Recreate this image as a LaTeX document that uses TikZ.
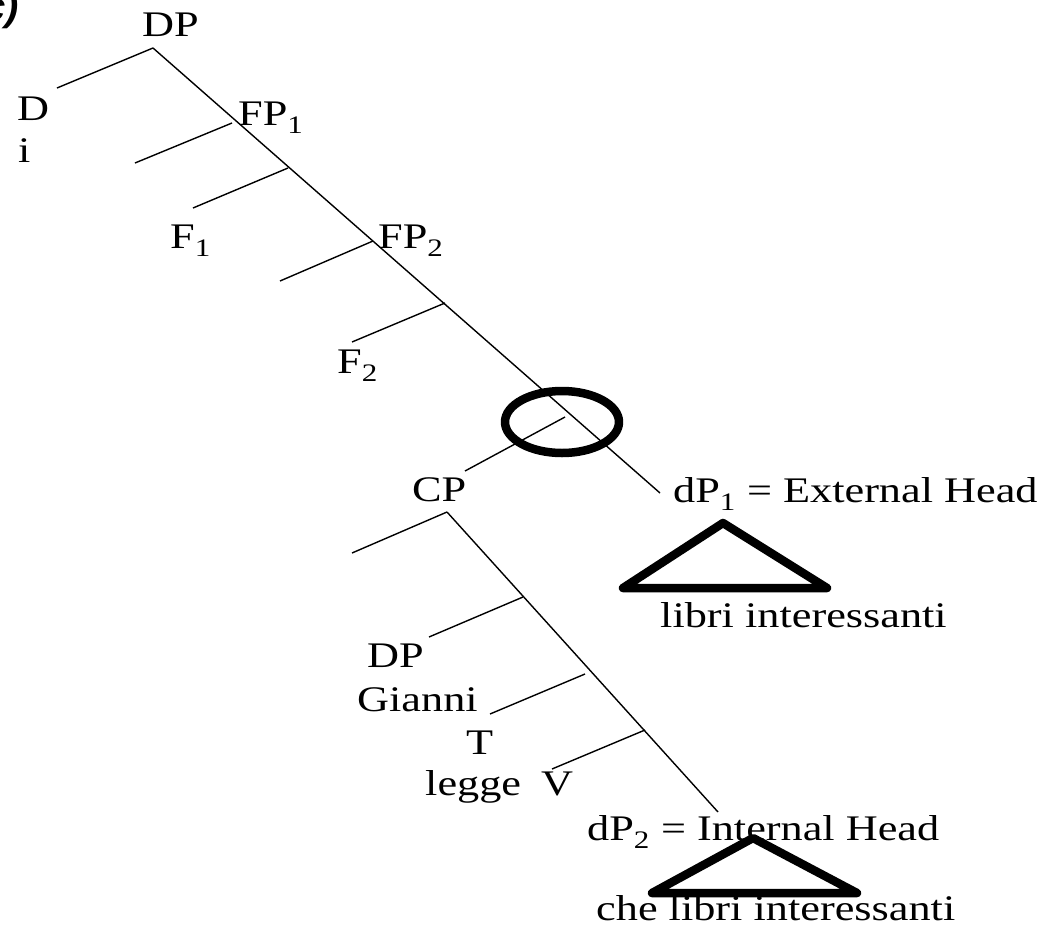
\documentclass[tikz,border=0pt]{standalone}
\usepackage{fontspec}
\setmainfont{Liberation Serif}[FakeStretch=1.23]
\setsansfont{Liberation Sans}
\usepackage{tikz}

\tikzset{
	lbl/.style={anchor=base west, inner sep=0pt, font=\fontsize{36}{40}\selectfont},
	branch/.style={line width=1.4pt},
	heavy/.style={line width=8.5pt, line join=round, line cap=round}
}

\begin{document}
\begin{tikzpicture}[x=1pt, y=-1pt]

	\useasboundingbox (0,0) rectangle (1041,927);

	% panel letter, cut at the edge
	\node[anchor=base east, inner sep=0pt, font=\sffamily\bfseries\itshape\fontsize{40}{44}\selectfont] (panel) at (19,20) {c)};

	%upper spine (DP)
	\coordinate (dpTop)  at (153,48);
	\coordinate (dpEnd)  at (660,493);
	\coordinate (dLeaf)  at (57,88);
	\coordinate (fpOne)  at (232,123);
	\coordinate (specOne) at (135,163);
	\coordinate (fOne)   at (288,168);
	\coordinate (fOneLeaf) at (193,208);
	\coordinate (fpTwo)  at (373,241);
	\coordinate (specTwo) at (280,281);
	\coordinate (fTwo)   at (445,303);
	\coordinate (fTwoLeaf) at (352,342);
	\coordinate (cpJoin) at (565,417);
	\coordinate (cpLeaf) at (465,471);

	%lower spine (CP)
	\coordinate (cpTop)  at (447,512);
	\coordinate (cpEnd)  at (718,812);
	\coordinate (specCP) at (352,553);
	\coordinate (dpJoin) at (523,597);
	\coordinate (dpLeaf) at (429,637);
	\coordinate (tJoin)  at (585,674);
	\coordinate (tLeaf)  at (490,714);
	\coordinate (vJoin)  at (645,730);
	\coordinate (vLeaf)  at (552,769);

	% labels
	\node[lbl] (dp)      at (142,36)  {DP};
	\node[lbl] (d)       at (17,120)  {D};
	\node[lbl] (di)      at (18,162)  {i};
	\node[lbl] (fpone)   at (238,125) {FP\textsubscript{1}};
	\node[lbl] (fone)    at (170,248) {F\textsubscript{1}};
	\node[lbl] (fptwo)   at (378,248) {FP\textsubscript{2}};
	\node[lbl] (ftwo)    at (337,373) {F\textsubscript{2}};
	\node[lbl] (cp)      at (412,501) {CP};
	\node[lbl] (dpsubj)  at (367,667) {DP};
	\node[lbl] (gianni)  at (357,711) {Gianni};
	\node[lbl] (tense)   at (466,754) {T};
	\node[lbl] (legge)   at (425,795) {legge};
	\node[lbl] (verb)    at (541,795) {V};
	\node[lbl] (dpone)   at (673,502) {dP\textsubscript{1} = External Head};
	\node[lbl] (librione) at (660,627) {libri interessanti};
	\node[lbl] (dptwo)   at (587,840) {dP\textsubscript{2} = Internal Head};
	\node[lbl] (libritwo) at (596,920) {che libri interessanti};

	% upper tree
	\draw[branch] (dpTop) -- (dpEnd);
	\draw[branch] (dpTop) -- (dLeaf);
	\draw[branch] (fpOne) -- (specOne);
	\draw[branch] (fOne) -- (fOneLeaf);
	\draw[branch] (fpTwo) -- (specTwo);
	\draw[branch] (fTwo) -- (fTwoLeaf);
	\draw[branch] (cpJoin) -- (cpLeaf);

	% lower tree
	\draw[branch] (cpTop) -- (cpEnd);
	\draw[branch] (cpTop) -- (specCP);
	\draw[branch] (dpJoin) -- (dpLeaf);
	\draw[branch] (tJoin) -- (tLeaf);
	\draw[branch] (vJoin) -- (vLeaf);

	% attachment site
	\draw[heavy] (562,422) ellipse[x radius=57, y radius=31];

	% roofs
	\draw[heavy] (723,523) -- (623,588) -- (827,588) -- cycle;
	\draw[heavy] (753,838) -- (652,893) -- (857,893) -- cycle;

\end{tikzpicture}
\end{document}
